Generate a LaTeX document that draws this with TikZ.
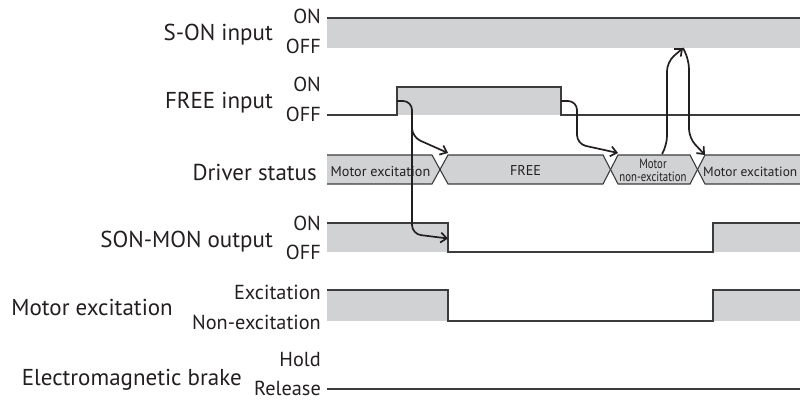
\documentclass[tikz,border=0pt]{standalone}
\usepackage{fontspec}
\usepackage{graphicx}
\setmainfont{PT Sans}
\usetikzlibrary{arrows.meta}
\definecolor{sig}{HTML}{D1D2D4}
\definecolor{ln}{HTML}{3C3C3C}
\definecolor{ink}{HTML}{231F20}
\begin{document}
\begin{tikzpicture}[x=1pt,y=-1pt,
  sigline/.style={draw=ln,line width=1.3pt},
  sigfill/.style={fill=sig},
  hexbox/.style={fill=sig,draw=ln,line width=1.1pt},
  lbl/.style={anchor=base east,font=\fontsize{23}{23}\selectfont,text=ink,inner sep=0},
  lvl/.style={anchor=base east,font=\fontsize{20.3}{20.3}\selectfont,text=ink,inner sep=0},
  boxtxt/.style={anchor=base,font=\fontsize{14.2}{14.2}\selectfont,text=ink,inner sep=0},
  smalltxt/.style={anchor=base,font=\fontsize{13.5}{13.5}\selectfont,text=ink,inner sep=0},
  cue/.style={draw=ink,line width=1.7pt,rounded corners=9pt,-{Straight Barb[length=6pt,width=10pt,line width=1.7pt]}},
]
\useasboundingbox (0,0) rectangle (800,401);
\begin{scope}
\clip (0,0) rectangle (800,401);
% ---- row labels
\node[lbl] (son) at (273,40.7) {S-ON input};
\node[lvl] (sonon) at (321,24) {ON};
\node[lvl] (sonoff) at (321,54) {OFF};
\node[lbl] (free) at (273,109) {FREE input};
\node[lvl] (freeon) at (321,91.7) {ON};
\node[lvl] (freeoff) at (321,121.7) {OFF};
\node[lbl] (drv) at (317,180) {Driver status};
\node[lbl] (smo) at (273,247.7) {SON-MON output};
\node[lvl] (smoon) at (321,230.7) {ON};
\node[lvl] (smooff) at (321,259.3) {OFF};
\node[lbl] (mex) at (173,315) {Motor excitation};
\node[lvl] (mexon) at (321,299) {Excitation};
\node[lvl] (mexoff) at (321,329) {Non-excitation};
\node[lbl] (brk) at (242,385) {Electromagnetic brake};
\node[lvl] (brkon) at (321,366.7) {Hold};
\node[lvl] (brkoff) at (321,395.5) {Release};
% ---- S-ON input
\fill[sigfill] (327,18) rectangle (810,48);
\draw[sigline] (327,18) -- (810,18);
% ---- FREE input
\fill[sigfill] (397,87) rectangle (561,115);
\draw[sigline] (327,115) -- (397,115) -- (397,87) -- (561,87) -- (561,115) -- (810,115);
% ---- Driver status
\fill[sig] (327,155) -- (432,155) -- (440,169.5) -- (432,184) -- (327,184) -- cycle;
\draw[ln,line width=1.1pt] (327,155) -- (432,155) -- (440,169.5) -- (432,184) -- (327,184);
\path[hexbox] (440,169.5) -- (448,155) -- (603,155) -- (610.5,169.5) -- (603,184) -- (448,184) -- cycle;
\path[hexbox] (610.5,169.5) -- (618,155) -- (690,155) -- (697.5,169.5) -- (690,184) -- (618,184) -- cycle;
\path[hexbox] (697.5,169.5) -- (705,155) -- (815,155) -- (815,184) -- (705,184) -- cycle;
\node[boxtxt] (st1) at (380.5,176) {Motor excitation};
\node[boxtxt] (st2) at (525.5,175) {FREE};
\node[smalltxt] (st3a) at (653,168) {\scalebox{0.8}[1]{Motor}};
\node[smalltxt] (st3b) at (653,181.5) {\scalebox{0.8}[1]{non-excitation}};
\node[boxtxt,anchor=base west,font=\fontsize{13.4}{13.4}\selectfont] (st4) at (703,176.5) {Motor excitation};
% ---- SON-MON output
\fill[sigfill] (327,223) rectangle (448,252);
\fill[sigfill] (713,223) rectangle (810,252);
\draw[sigline] (327,223) -- (448,223) -- (448,252) -- (713,252) -- (713,223) -- (810,223);
% ---- Motor excitation
\fill[sigfill] (327,290) rectangle (448,321);
\fill[sigfill] (713,290) rectangle (810,321);
\draw[sigline] (327,290) -- (448,290) -- (448,321) -- (713,321) -- (713,290) -- (810,290);
% ---- Electromagnetic brake
\draw[sigline] (327,389) -- (810,389);
% ---- cause/effect arrows
\coordinate (a1s) at (397,101);
\coordinate (a1c) at (412,101);
\coordinate (a1b) at (412,123);
\coordinate (a1k) at (412,137);
\coordinate (a1t) at (448,153);
\coordinate (a1m) at (412,234);
\coordinate (a1e) at (448,238.5);
\draw[cue] (a1s) -- (a1c) -- (a1m) -- (a1e);
\draw[cue] (a1b) -- (a1k) -- (a1t);
\coordinate (a2s) at (561,101);
\coordinate (a2c) at (577,101);
\coordinate (a2k) at (577,144);
\coordinate (a2e) at (618,153);
\draw[cue] (a2s) -- (a2c) -- (a2k) -- (a2e);
\coordinate (a3s) at (662,154);
\coordinate (a3c) at (667,145);
\coordinate (a3k) at (667,62);
\coordinate (a3e) at (683,48);
\draw[cue] (a3s) -- (a3c) -- (a3k) -- (a3e);
\coordinate (a4c) at (689,60);
\coordinate (a4k) at (689,138);
\coordinate (a4e) at (705,155);
\draw[cue] (a3e) -- (a4c) -- (a4k) -- (a4e);
\end{scope}
\end{tikzpicture}
\end{document}
